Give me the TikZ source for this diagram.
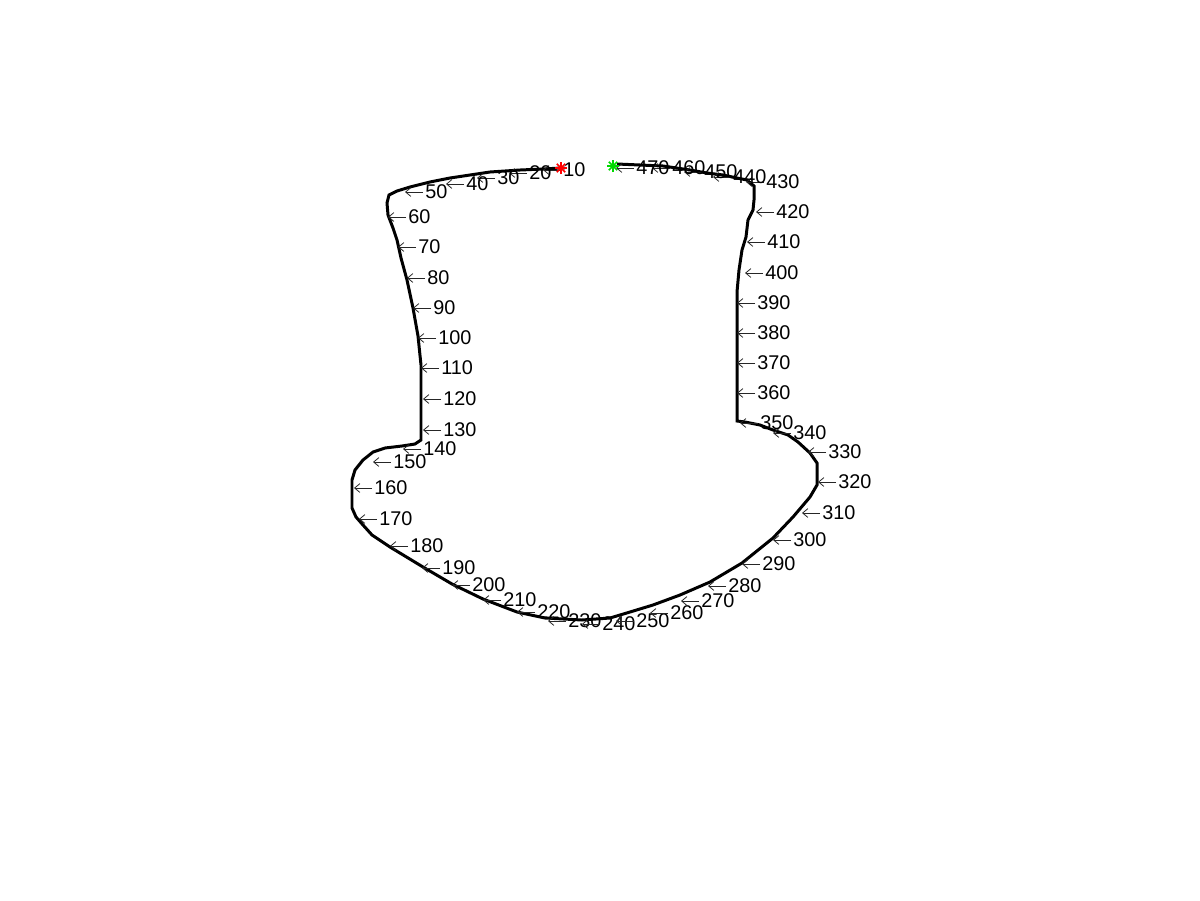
\documentclass[tikz,border=0pt]{standalone}
\usepackage{fontspec}
\setmainfont{Liberation Sans}
\usetikzlibrary{calc,arrows.meta}
\begin{document}
\begin{tikzpicture}[x=0.02cm,y=-0.02cm,
  contour/.style={line width=1.7pt,black,line join=miter},
  idx/.style={anchor=west,inner sep=0pt,font=\fontsize{11.3}{12}\selectfont,text height=0.72em,text depth=0pt},
  idxarrow/.style={line width=0.45pt,black!85,-{Straight Barb[length=3pt,width=5pt]}},
  starmark/.style={line width=0.9pt}]
\useasboundingbox (0,0) rectangle (1200,900);
\draw[contour] (565,168) -- (561,168) -- (543,169) -- (520,170) -- (490,172) -- (470,175) -- (450,178) -- (430,182) -- (410,187) -- (397,191) -- (389,195) -- (387,203) -- (388,215) -- (393,228) -- (397,240) -- (401,258) -- (407,280) -- (413,308) -- (418,336) -- (421,365) -- (421,400) -- (421,440) -- (415,444) -- (402,446) -- (385,448) -- (373,452) -- (363,460) -- (355,470) -- (352,480) -- (352,508) -- (356,517) -- (363,525) -- (372,535) -- (390,547) -- (423,567) -- (452,584) -- (483,599) -- (517,612) -- (545,618) -- (582,620) -- (610,618) -- (630,612) -- (653,605) -- (680,595) -- (710,582) -- (742,563) -- (773,538) -- (793,517) -- (810,497) -- (817,485) -- (817,463) -- (810,453) -- (798,442) -- (788,435) -- (773,430) -- (760,425) -- (745,422) -- (737,421) -- (737,292) -- (739,270) -- (742,250) -- (746,237) -- (748,220) -- (753,210) -- (754,200) -- (754,186) -- (747,180) -- (737,178) -- (723,175) -- (707,173) -- (690,170) -- (663,166) -- (617,164);
\foreach \n/\x/\y in {10/543/170,20/509/173,30/477/178,40/446/184,50/405/192,60/388/217,70/398/247,80/407/278,90/413/308,100/418/338,110/421/368,120/423/399,130/423/430,140/403/449,150/373/462,160/354/488,170/359/519,180/390/546,190/422/568,200/452/585,210/483/600,220/517/612,230/548/621,240/582/624,250/616/621,260/650/613,270/681/601,280/708/586,290/742/564,300/773/540,310/802/513,320/818/482,330/808/452,340/773/433,350/740/423,360/737/393,370/737/363,380/737/333,390/737/303,400/745/273,410/747/242,420/756/212,430/746/182,440/713/177,450/684/172,460/652/168,470/616/168}{
  \coordinate (p\n) at (\x,\y);
  \node[idx] (l\n) at ($(p\n)+(20,0)$) {\n};
  \draw[idxarrow] (l\n.west) ++(-2,0) -- (p\n);
}
\coordinate (s) at (561,168);
\coordinate (e) at (613,166);
\foreach \a in {0,45,90,135}{
  \draw[starmark,red] ($(s)+(\a:6)$) -- ($(s)+(\a+180:6)$);
  \draw[starmark,green!85!black] ($(e)+(\a:6)$) -- ($(e)+(\a+180:6)$);
}
\end{tikzpicture}
\end{document}
